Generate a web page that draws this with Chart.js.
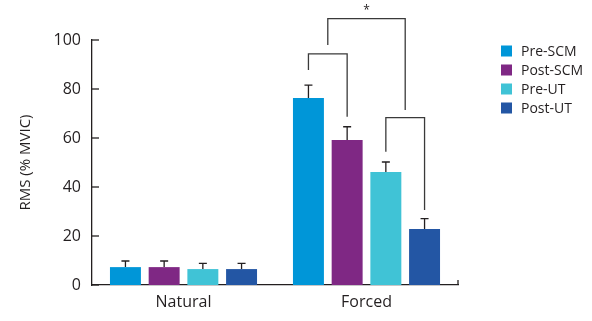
<!DOCTYPE html>
<html>
<head>
<meta charset="utf-8">
<script src="https://cdn.jsdelivr.net/npm/chart.js@4/dist/chart.umd.min.js"></script>
<style>
  html, body { margin: 0; padding: 0; background: #fff; }
  #wrap { width: 592px; height: 321px; }
</style>
</head>
<body>
<div id="wrap"><canvas id="chart" width="592" height="321"></canvas></div>
<script>
const categories = ["Natural", "Forced"];
const seriesLabels = ["Pre-SCM", "Post-SCM", "Pre-UT", "Post-UT"];
const preSCM = [7.3, 76.3];
const postSCM = [7.3, 59.2];
const preUT = [6.5, 46.1];
const postUT = [6.5, 22.9];
const preSCMErr = [2.5, 5.3];
const postSCMErr = [2.5, 5.4];
const preUTErr = [2.3, 4.1];
const postUTErr = [2.3, 4.2];
const yTicks = [0, 20, 40, 60, 80, 100];

// significance brackets on "Forced": [dataset a, dataset b, left foot, top, right foot]
const pairBrackets = [
  [0, 1, 87.8, 94.3, 68.7],
  [2, 3, 54.4, 68.3, 30.6],
];
// bracket joining the two pair brackets: [left foot, top, right foot]
const topBracket = [98, 108.7, 71.4];
const sigMark = "*";

const colors = ["#0096d8", "#7f2884", "#40c3d6", "#2356a4"];
const ink = "#231f20";
const font = "'Open Sans', sans-serif";

const values = [preSCM, postSCM, preUT, postUT];
const errors = [preSCMErr, postSCMErr, preUTErr, postUTErr];

const extras = {
  id: "extras",
  afterDatasetsDraw(chart) {
    const ctx = chart.ctx;
    const y = chart.scales.y;
    const x = chart.scales.x;
    ctx.save();
    ctx.strokeStyle = ink;
    ctx.lineWidth = 1.3;

    // error bars
    values.forEach((vals, d) => {
      const meta = chart.getDatasetMeta(d);
      meta.data.forEach((bar, i) => {
        const top = y.getPixelForValue(vals[i] + errors[d][i]);
        ctx.beginPath();
        ctx.moveTo(bar.x, bar.y);
        ctx.lineTo(bar.x, top);
        ctx.moveTo(bar.x - 4, top);
        ctx.lineTo(bar.x + 4, top);
        ctx.stroke();
      });
    });

    // inner ticks on y axis
    yTicks.forEach((t) => {
      const py = y.getPixelForValue(t);
      ctx.beginPath();
      ctx.moveTo(x.left, py);
      ctx.lineTo(x.left + 7, py);
      ctx.stroke();
    });
    // small tick at right end of x axis
    ctx.beginPath();
    ctx.moveTo(x.right, y.bottom);
    ctx.lineTo(x.right, y.bottom - 5);
    ctx.stroke();

    // brackets
    ctx.strokeStyle = "#3a3a3a";
    const mids = [];
    pairBrackets.forEach(([a, b, f1, t, f2]) => {
      const xa = chart.getDatasetMeta(a).data[1].x;
      const xb = chart.getDatasetMeta(b).data[1].x;
      const pt = y.getPixelForValue(t);
      ctx.beginPath();
      ctx.moveTo(xa, y.getPixelForValue(f1));
      ctx.lineTo(xa, pt);
      ctx.lineTo(xb, pt);
      ctx.lineTo(xb, y.getPixelForValue(f2));
      ctx.stroke();
      mids.push((xa + xb) / 2);
    });
    const tt = y.getPixelForValue(topBracket[1]);
    ctx.beginPath();
    ctx.moveTo(mids[0], y.getPixelForValue(topBracket[0]));
    ctx.lineTo(mids[0], tt);
    ctx.lineTo(mids[1], tt);
    ctx.lineTo(mids[1], y.getPixelForValue(topBracket[2]));
    ctx.stroke();
    ctx.fillStyle = ink;
    ctx.font = "12px " + font;
    ctx.textAlign = "center";
    ctx.textBaseline = "middle";
    ctx.fillText(sigMark, (mids[0] + mids[1]) / 2, tt - 8);

    // legend
    ctx.font = "14px " + font;
    ctx.textAlign = "left";
    seriesLabels.forEach((lab, i) => {
      const cy = 51 + i * 19;
      ctx.fillStyle = colors[i];
      ctx.fillRect(501, cy - 5.5, 11, 11);
      ctx.fillStyle = ink;
      ctx.fillText(lab, 521, cy + 1);
    });
    ctx.restore();
  },
};

new Chart(document.getElementById("chart"), {
  type: "bar",
  data: {
    labels: categories,
    datasets: values.map((v, i) => ({
      label: seriesLabels[i],
      data: v,
      backgroundColor: colors[i],
      borderWidth: 0,
      categoryPercentage: 0.846,
      barPercentage: 0.8,
    })),
  },
  options: {
    responsive: false,
    animation: false,
    layout: { padding: { top: 40, right: 134, left: 0, bottom: 0 } },
    plugins: { legend: { display: false }, tooltip: { enabled: false } },
    scales: {
      x: {
        grid: { display: false, drawTicks: false },
        border: { display: true, color: ink, width: 1.3 },
        ticks: { color: ink, font: { family: font, size: 16 }, padding: 8 },
        afterFit: (s) => { s.height = 36; },
      },
      y: {
        min: 0,
        max: 100,
        grid: { display: false, drawTicks: false },
        border: { display: true, color: ink, width: 1.3 },
        afterBuildTicks: (s) => { s.ticks = yTicks.map((v) => ({ value: v })); },
        ticks: { color: ink, font: { family: font, size: 16 }, padding: 11 },
        title: {
          display: true,
          text: "RMS (% MVIC)",
          color: ink,
          font: { family: font, size: 15 },
          padding: { top: 17, bottom: 0 },
        },
        afterFit: (s) => { s.width = 92; },
      },
    },
  },
  plugins: [extras],
});
</script>
</body>
</html>
